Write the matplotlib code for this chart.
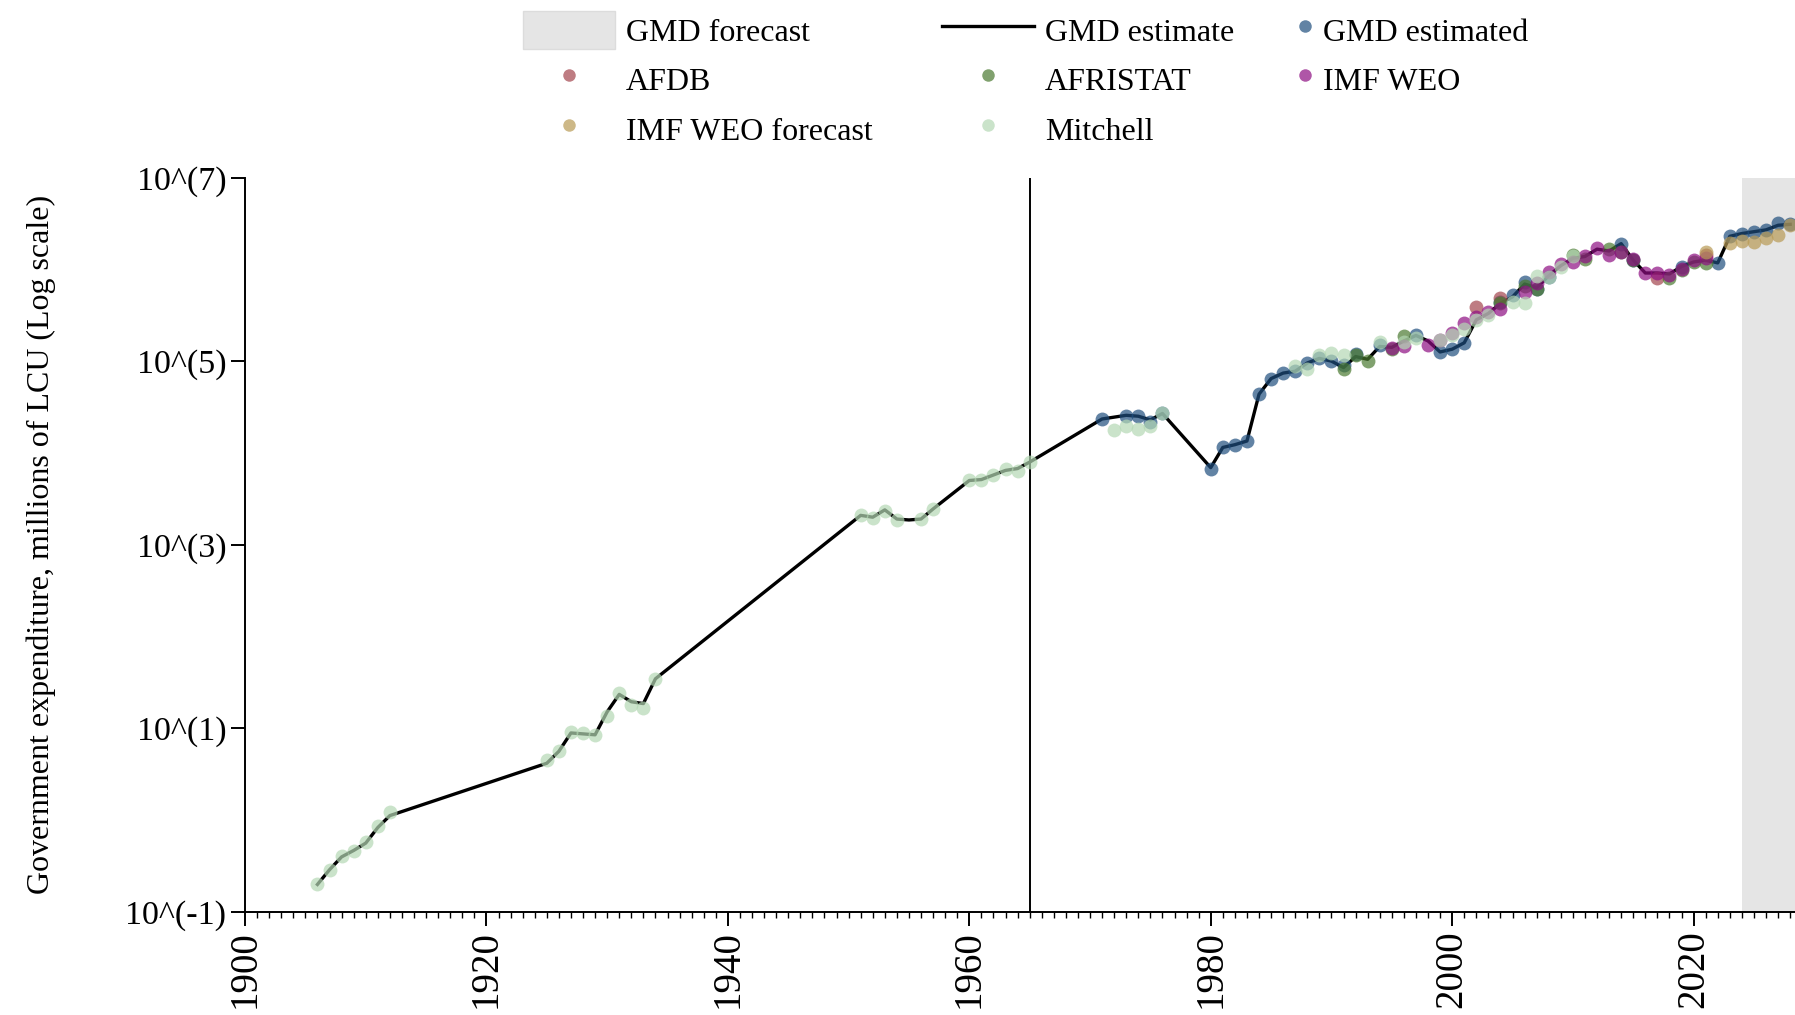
import matplotlib
matplotlib.use('Agg')
import matplotlib.pyplot as plt
from matplotlib.lines import Line2D
from matplotlib.patches import Patch
from matplotlib.ticker import NullLocator
import numpy as np

plt.rcParams['font.family'] = ['Liberation Serif', 'DejaVu Serif']

# --- Data (values are log10 of millions of LCU) ---
line_years = [1906, 1907, 1908, 1909, 1910, 1911, 1912,
              1925, 1926, 1927, 1928, 1929, 1930, 1931, 1932, 1933, 1934,
              1951, 1952, 1953, 1954, 1955, 1956, 1957,
              1960, 1961, 1962, 1963, 1964, 1965,
              1971, 1972, 1973, 1974, 1975, 1976,
              1980, 1981, 1982, 1983, 1984, 1985, 1986, 1987, 1988, 1989,
              1990, 1991, 1992, 1993, 1994, 1995, 1996, 1997, 1998, 1999,
              2000, 2001, 2002, 2003, 2004, 2005, 2006, 2007, 2008, 2009,
              2010, 2011, 2012, 2013, 2014, 2015, 2016, 2017, 2018, 2019,
              2020, 2021, 2022, 2023, 2024, 2025, 2026, 2027, 2028]
line_vals = [-0.70, -0.54, -0.40, -0.33, -0.25, -0.08, 0.05,
             0.62, 0.75, 0.95, 0.94, 0.93, 1.18, 1.37, 1.29, 1.27, 1.54,
             3.32, 3.30, 3.38, 3.28, 3.27, 3.28, 3.39,
             3.70, 3.71, 3.76, 3.81, 3.83, 3.90,
             4.37, 4.39, 4.41, 4.40, 4.36, 4.43,
             3.84, 4.06, 4.09, 4.13, 4.64, 4.81, 4.87, 4.89, 4.98, 5.03,
             5.00, 4.93, 5.05, 5.02, 5.16, 5.15, 5.22, 5.28, 5.22, 5.10,
             5.13, 5.20, 5.45, 5.52, 5.63, 5.70, 5.84, 5.80, 5.93, 6.04,
             6.12, 6.14, 6.22, 6.20, 6.28, 6.10, 5.96, 5.96, 5.95, 6.03,
             6.08, 6.10, 6.07, 6.36, 6.39, 6.41, 6.43, 6.48, 6.49]

gmd_years = [1971, 1973, 1974, 1975, 1976, 1980, 1981, 1982, 1983, 1984,
             1985, 1986, 1987, 1988, 1989, 1990, 1991, 1992, 1994, 1997,
             1999, 2000, 2001, 2004, 2005, 2006, 2007, 2008, 2014, 2015,
             2019, 2022, 2023, 2024, 2025, 2026, 2027, 2028]
gmd_vals = [4.37, 4.40, 4.40, 4.34, 4.43, 3.82, 4.06, 4.09, 4.13, 4.64,
            4.81, 4.87, 4.89, 4.98, 5.03, 5.00, 4.96, 5.08, 5.18, 5.28,
            5.10, 5.13, 5.20, 5.64, 5.72, 5.86, 5.79, 5.92, 6.28, 6.10,
            6.03, 6.07, 6.36, 6.39, 6.41, 6.43, 6.50, 6.49]

afdb_years = [2002, 2004, 2017, 2021]
afdb_vals = [5.59, 5.69, 5.91, 6.16]

afristat_years = [1991, 1992, 1993, 1995, 1996, 2004, 2006, 2007, 2010, 2011,
                  2013, 2014, 2015, 2018, 2019, 2020, 2021]
afristat_vals = [4.91, 5.07, 5.00, 5.13, 5.27, 5.63, 5.82, 5.79, 6.16, 6.11,
                 6.22, 6.19, 6.10, 5.91, 5.99, 6.08, 6.07]

weo_years = [1995, 1996, 1998, 1999, 2000, 2001, 2002, 2003, 2004, 2006,
             2007, 2008, 2009, 2010, 2011, 2012, 2013, 2014, 2015, 2016,
             2017, 2018, 2019, 2020, 2021]
weo_vals = [5.14, 5.16, 5.18, 5.23, 5.31, 5.42, 5.48, 5.54, 5.57, 5.75,
            5.85, 5.97, 6.06, 6.08, 6.14, 6.23, 6.16, 6.19, 6.11, 5.96,
            5.96, 5.94, 6.00, 6.10, 6.12]

weo_fc_years = [2021, 2023, 2024, 2025, 2026, 2027, 2028]
weo_fc_vals = [6.19, 6.29, 6.31, 6.30, 6.34, 6.37, 6.48]

mitchell_years = [1906, 1907, 1908, 1909, 1910, 1911, 1912,
                  1925, 1926, 1927, 1928, 1929, 1930, 1931, 1932, 1933, 1934,
                  1951, 1952, 1953, 1954, 1956, 1957,
                  1960, 1961, 1962, 1963, 1964, 1965,
                  1972, 1973, 1974, 1975, 1976,
                  1987, 1988, 1989, 1990, 1991, 1994, 1996, 1997, 1999,
                  2000, 2001, 2002, 2003, 2005, 2006, 2007, 2008, 2009, 2010]
mitchell_vals = [-0.70, -0.54, -0.39, -0.34, -0.24, -0.06, 0.09,
                 0.65, 0.75, 0.96, 0.95, 0.93, 1.14, 1.38, 1.25, 1.22, 1.54,
                 3.32, 3.29, 3.37, 3.27, 3.28, 3.39,
                 3.70, 3.70, 3.76, 3.82, 3.80, 3.90,
                 4.25, 4.29, 4.26, 4.29, 4.43,
                 4.95, 4.91, 5.07, 5.09, 5.07, 5.21, 5.21, 5.25, 5.23,
                 5.28, 5.35, 5.45, 5.50, 5.64, 5.63, 5.93, 5.92, 6.02, 6.14]

forecast_start = 2024
break_year = 1965

sources = [
    ('GMD estimated', gmd_years, gmd_vals, '#1f4e7e'),
    ('AFDB', afdb_years, afdb_vals, '#a3454d'),
    ('AFRISTAT', afristat_years, afristat_vals, '#4a7a30'),
    ('IMF WEO', weo_years, weo_vals, '#8e0e82'),
    ('IMF WEO forecast', weo_fc_years, weo_fc_vals, '#b89a55'),
    ('Mitchell', mitchell_years, mitchell_vals, '#b4d8b4'),
]

# --- Plot ---
fig = plt.figure(figsize=(17.95, 10.15), dpi=100)
ax = fig.add_axes([0.1365, 0.1015, 0.8635, 0.7236])

ax.axvspan(forecast_start, 2030, color='#e5e5e5', lw=0, zorder=0)
ax.axvline(break_year, color='black', lw=1.4, zorder=1)
ax.plot(line_years, 10 ** np.array(line_vals), color='black', lw=2.4, zorder=2)

for name, yrs, vals, col in sources:
    ax.scatter(yrs, 10 ** np.array(vals), s=100, color=col, alpha=0.7, lw=0, zorder=3)

ax.set_yscale('log')
ax.set_ylim(0.1, 1e7)
ax.set_xlim(1900, 2028.4)
ax.set_yticks([1e-1, 1e1, 1e3, 1e5, 1e7])
ax.set_yticklabels(['10^(-1)', '10^(1)', '10^(3)', '10^(5)', '10^(7)'])
ax.yaxis.set_minor_locator(NullLocator())
ax.set_xticks(range(1900, 2021, 20))
ax.set_xticks(range(1900, 2029), minor=True)

for s in ['top', 'right']:
    ax.spines[s].set_visible(False)
for s in ['left', 'bottom']:
    ax.spines[s].set_linewidth(1.4)

ax.tick_params(axis='y', which='major', length=10, width=1.4, labelsize=24.5, pad=3.5)
ax.tick_params(axis='x', which='major', length=10, width=1.4, labelsize=28,
               labelrotation=90, pad=3)
ax.tick_params(axis='x', which='minor', length=4.5, width=1.0)

ax.set_ylabel('Government expenditure, millions of LCU (Log scale)', fontsize=23)
ax.yaxis.set_label_coords(-0.122, 0.5)

# --- Legend ---
def dot(col):
    return Line2D([], [], marker='o', ls='none', markersize=9,
                  markerfacecolor=col, markeredgewidth=0, alpha=0.7)

cols = {name: col for name, _, _, col in sources}
h1 = [Patch(facecolor='#e5e5e5', edgecolor='#dcdcdc'),
      dot(cols['AFDB']), dot(cols['IMF WEO forecast']),
      Line2D([], [], color='black', lw=2.4),
      dot(cols['AFRISTAT']), dot(cols['Mitchell'])]
l1 = ['GMD forecast', 'AFDB', 'IMF WEO forecast',
      'GMD estimate', 'AFRISTAT', 'Mitchell']
top = 1 - 10.5 / 1015
leg1 = fig.legend(h1, l1, ncol=2, loc='upper left', bbox_to_anchor=(523 / 1795, top),
                  frameon=False, fontsize=23, handlelength=2.88, handleheight=1.5,
                  handletextpad=0.35, labelspacing=0.34, columnspacing=2.15,
                  borderpad=0, borderaxespad=0)

h2 = [dot(cols['GMD estimated']), dot(cols['IMF WEO'])]
l2 = ['GMD estimated', 'IMF WEO']
leg2 = fig.legend(h2, l2, ncol=1, loc='upper left', bbox_to_anchor=(1297 / 1795, top),
                  frameon=False, fontsize=23, handlelength=0.5, handleheight=1.5,
                  handletextpad=0.3, labelspacing=0.34, borderpad=0, borderaxespad=0)

fig.savefig('out.png', dpi=100)
